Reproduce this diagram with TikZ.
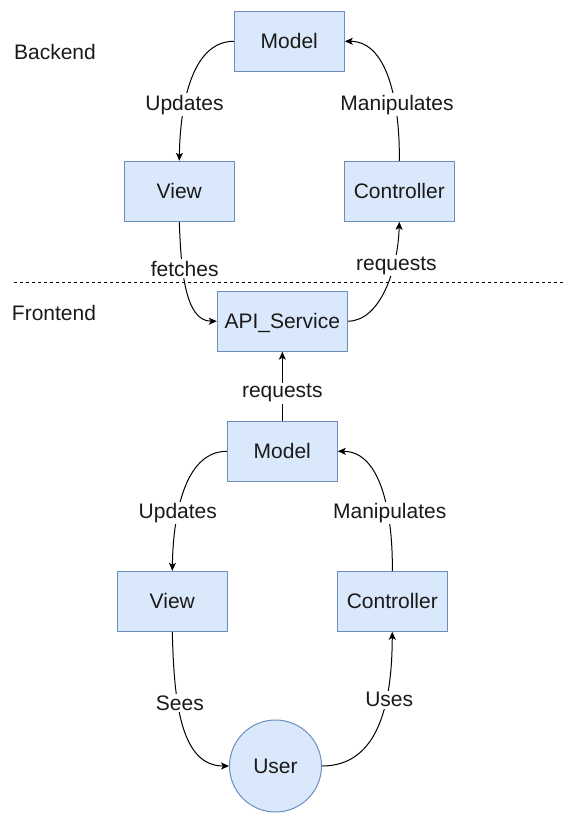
\documentclass[tikz,border=0pt]{standalone}
\usepackage{fontspec}
\setmainfont{Liberation Sans}
\usetikzlibrary{arrows.meta}
\definecolor{boxfill}{HTML}{DAE8FC}
\definecolor{boxline}{HTML}{6C8EBF}
\definecolor{txt}{HTML}{1A1A1A}
\begin{document}
\begin{tikzpicture}[x=1pt,y=-1pt,
  every node/.style={font=\fontsize{21}{24}\selectfont, text=txt},
  box/.style={draw=boxline, fill=boxfill, line width=1pt, minimum width=110pt, minimum height=60pt, inner sep=0pt, text depth=0pt, text height=15pt},
  usercirc/.style={circle, draw=boxline, fill=boxfill, line width=1pt, minimum size=92pt, inner sep=0pt},
  conn/.style={line width=1pt, -{Stealth[length=8pt,width=7pt,inset=2pt]}},
  lbl/.style={fill=white, inner sep=1.5pt},
  plain/.style={inner sep=0pt}
]
\useasboundingbox (0,0) rectangle (577,823);

% section labels
\node[plain] (backend) at (55,52) {Backend};
\node[plain] (frontend) at (54,313) {Frontend};
\coordinate (dl) at (14,282);
\coordinate (dr) at (565,282);
\draw[line width=0.8pt, dash pattern=on 3pt off 3pt] (dl) -- (dr);

% backend
\node[box] (bm) at (289.3,41.3) {Model};
\node[box] (bv) at (179.3,191.3) {View};
\node[box] (bc) at (399.3,191.3) {Controller};
\node[box, minimum width=130pt] (api) at (282.3,321.2) {API\_Service};

% frontend
\node[box] (fm) at (282.3,451.3) {Model};
\node[box] (fv) at (172.3,601.3) {View};
\node[box] (fc) at (392.3,601.3) {Controller};
\node[usercirc] (user) at (275.5,766) {User};

% backend connectors
\draw[conn] (bm.west) .. controls (190,41.3) and (180,110) .. (bv.north)
  node[lbl, pos=0.65] {Updates};
\draw[conn] (bc.north) .. controls (400,110) and (390,41.3) .. (bm.east)
  node[lbl, pos=0.35, xshift=2pt] {Manipulates};
\draw[conn] (bv.south) .. controls (181,270) and (185,321.2) .. (api.west)
  node[lbl, pos=0.33, xshift=2pt] {fetches};
\draw[conn] (api.east) .. controls (380,321.2) and (398,270) .. (bc.south)
  node[lbl, pos=0.69, xshift=3pt] {requests};

% frontend connectors
\draw[conn] (fm.north) -- (api.south) node[lbl, pos=0.4] {requests};
\draw[conn] (fm.west) .. controls (183,451.3) and (173,520) .. (fv.north)
  node[lbl, pos=0.64] {Updates};
\draw[conn] (fc.north) .. controls (393,520) and (383,451.3) .. (fm.east)
  node[lbl, pos=0.36, xshift=2pt] {Manipulates};
\draw[conn] (fv.south) .. controls (174,700) and (180,766) .. (user.west)
  node[lbl, pos=0.37, xshift=2pt] {Sees};
\draw[conn] (user.east) .. controls (380,766) and (392,700) .. (fc.south)
  node[lbl, pos=0.65, xshift=3pt] {Uses};
\end{tikzpicture}
\end{document}
